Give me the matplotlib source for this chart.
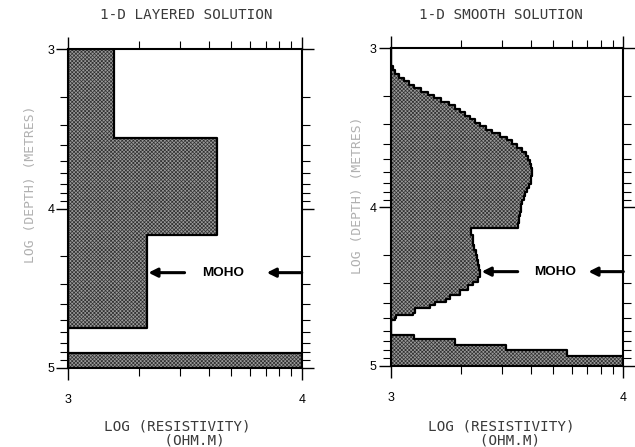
import numpy as np
import matplotlib.pyplot as plt
from matplotlib.ticker import FixedLocator

# 1-D layered model: top of each layer (log depth) and its log resistivity
layer_depth = [3.0, 3.559, 4.166, 4.753, 4.906]
layer_rho = [3.197, 3.636, 3.339, 3.0, 4.0]

# 1-D smooth model
smooth_depth = [3.000, 3.091, 3.110, 3.136, 3.161, 3.186, 3.205, 3.230, 3.249, 3.274,
                3.293, 3.312, 3.337, 3.356, 3.381, 3.400, 3.426, 3.445, 3.470, 3.489,
                3.514, 3.533, 3.558, 3.577, 3.602, 3.627, 3.652, 3.678, 3.703, 3.728,
                3.753, 3.778, 3.803, 3.828, 3.853, 3.878, 3.903, 3.928, 3.953, 3.978,
                4.003, 4.028, 4.053, 4.078, 4.103, 4.132, 4.176, 4.207, 4.239, 4.270,
                4.302, 4.334, 4.365, 4.397, 4.422, 4.441, 4.470, 4.491, 4.523, 4.554,
                4.581, 4.597, 4.617, 4.638, 4.670, 4.680, 4.701, 4.712, 4.806, 4.834,
                4.869, 4.901, 4.939]
smooth_rho = [3.000, 3.003, 3.010, 3.018, 3.036, 3.057, 3.079, 3.100, 3.130, 3.160,
              3.186, 3.216, 3.251, 3.276, 3.298, 3.319, 3.341, 3.362, 3.384, 3.410,
              3.436, 3.470, 3.499, 3.522, 3.543, 3.564, 3.582, 3.592, 3.600, 3.605,
              3.607, 3.607, 3.605, 3.601, 3.594, 3.586, 3.578, 3.572, 3.566, 3.562,
              3.558, 3.555, 3.552, 3.550, 3.549, 3.347, 3.352, 3.355, 3.360, 3.365,
              3.371, 3.375, 3.380, 3.384, 3.384, 3.375, 3.354, 3.332, 3.297, 3.254,
              3.239, 3.189, 3.168, 3.103, 3.096, 3.024, 3.017, 3.000, 3.098, 3.276,
              3.494, 3.757, 4.000]

titles = ["1-D LAYERED SOLUTION", "1-D SMOOTH SOLUTION"]
moho_depth = [4.403, 4.407]
moho_head = [3.343, 3.391]
moho_text_x = [3.663, 3.706]

plt.rcParams['hatch.linewidth'] = 0.5
mono = 'DejaVu Sans Mono'

fig = plt.figure(figsize=(6.35, 4.47), dpi=100)
ax1 = fig.add_axes([0.1076, 0.1774, 0.3676, 0.7123])
ax2 = fig.add_axes([0.6153, 0.1819, 0.3663, 0.7096])

models = [(layer_depth, layer_rho), (smooth_depth, smooth_rho)]
for i, ax in enumerate([ax1, ax2]):
    d, r = models[i]
    y = np.append(d, 5.0)
    x = np.append(r, r[-1])
    ax.fill_betweenx(y, 3.0, x, step='post', facecolor='#9a9a9a',
                     edgecolor='#303030', hatch='xxxxxxxxx', linewidth=0)
    ax.fill_betweenx(y, 3.0, x, step='post', facecolor='none',
                     edgecolor='black', linewidth=1.6)

    ax.set_xlim(3, 4)
    ax.set_ylim(5, 3)
    for s in ax.spines.values():
        s.set_linewidth(1.5)

    ax.xaxis.set_major_locator(FixedLocator([3, 4]))
    ax.yaxis.set_major_locator(FixedLocator([3, 4, 5]))
    ax.xaxis.set_minor_locator(FixedLocator(3 + np.log10(np.arange(2, 10))))
    ax.yaxis.set_minor_locator(FixedLocator(np.concatenate(
        [3 + np.log10(np.arange(2, 10)), 4 + np.log10(np.arange(2, 10))])))
    ax.tick_params(which='both', direction='out', top=True, right=True,
                   labeltop=False, labelright=False, color='black')
    ax.tick_params(which='major', length=8.6, width=1.0)
    ax.tick_params(which='minor', length=5.5, width=0.8)
    ax.tick_params(axis='x', which='major', pad=10)
    ax.tick_params(axis='y', which='major', pad=1.5)
    ax.set_xticklabels(['3', '4'], fontsize=9, family='Liberation Sans')
    ax.set_yticklabels(['3', '4', '5'], fontsize=9, family='Liberation Sans')

    # moho markers
    yd = moho_depth[i]
    ax.annotate('', xy=(moho_head[i], yd), xytext=(moho_head[i] + 0.155, yd),
                arrowprops=dict(arrowstyle='-|>', lw=2.2, color='black',
                                mutation_scale=13, shrinkA=0, shrinkB=0))
    ax.annotate('', xy=(3.85, yd), xytext=(4.0, yd),
                arrowprops=dict(arrowstyle='-|>', lw=2.2, color='black',
                                mutation_scale=13, shrinkA=0, shrinkB=0))
    ax.text(moho_text_x[i], yd, 'MOHO', ha='center', va='center',
            fontsize=9.7, fontweight='bold', family='Liberation Sans')

# titles
fig.text(186 / 635, 1 - 15 / 447, titles[0], ha='center', va='center',
         family=mono, fontsize=10.3, color='#3a3a3a')
fig.text(501 / 635, 1 - 15 / 447, titles[1], ha='center', va='center',
         family=mono, fontsize=10.3, color='#3a3a3a')

# x labels
fig.text(177.5 / 635, 1 - 433 / 447, 'LOG (RESISTIVITY)\n       (OHM.M)',
         ha='center', va='center', multialignment='left', family=mono,
         fontsize=10.3, color='#3a3a3a', linespacing=1.0)
fig.text(501 / 635, 1 - 433 / 447, 'LOG (RESISTIVITY)\n      (OHM.M)',
         ha='center', va='center', multialignment='left', family=mono,
         fontsize=10.3, color='#3a3a3a', linespacing=1.0)

# y labels
fig.text(31 / 635, 1 - 184 / 447, 'LOG (DEPTH) (METRES)', rotation=90,
         ha='center', va='center', family=mono, fontsize=9.4, color='#b0b0b0')
fig.text(357.5 / 635, 1 - 195 / 447, 'LOG (DEPTH) (METRES)', rotation=90,
         ha='center', va='center', family=mono, fontsize=9.4, color='#b0b0b0')

fig.savefig('out.png', dpi=100, facecolor='white')
